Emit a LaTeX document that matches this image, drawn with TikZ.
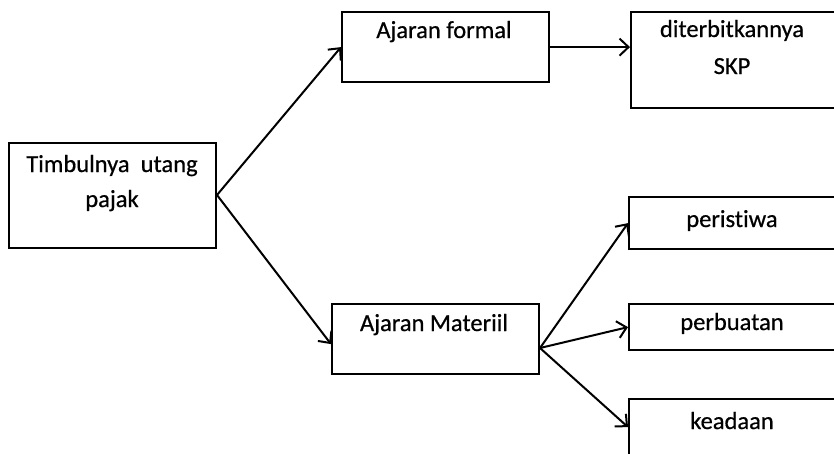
\documentclass[tikz,border=0pt]{standalone}
\usepackage{fontspec}
\setmainfont{Carlito}[Ligatures={NoCommon}, FakeBold=0.6]
\usetikzlibrary{arrows.meta}
\begin{document}
\begin{tikzpicture}[x=1pt,y=-1pt,
  box/.style={draw=black, line width=2.2pt, inner sep=0pt, anchor=north west},
  lbl/.style={anchor=base, inner sep=0pt, font=\fontsize{24.5}{30}\selectfont, text=black},
  arr/.style={draw=black, line width=2pt, -{Straight Barb[length=9pt,width=17pt,line width=2pt]}}]
\useasboundingbox (0,0) rectangle (834,453);
\clip (0,0) rectangle (834,453);
% boxes
\node[box, minimum width=207pt, minimum height=105pt] (tp) at (8,142) {};
\node[box, minimum width=207pt, minimum height=70pt] (af) at (341,11) {};
\node[box, minimum width=210pt, minimum height=96pt] (dk) at (630,11) {};
\node[box, minimum width=207pt, minimum height=70pt] (am) at (331,303) {};
\node[box, minimum width=212pt, minimum height=52pt] (pe) at (628,196) {};
\node[box, minimum width=212pt, minimum height=46pt] (pb) at (628,303) {};
\node[box, minimum width=212pt, minimum height=64pt] (ke) at (628,398) {};
% texts
\node[lbl] (tpA) at (112,172) {Timbulnya \ utang};
\node[lbl] (tpB) at (112,207) {pajak};
\node[lbl] (afA) at (444,38) {Ajaran formal};
\node[lbl] (dkA) at (732,37) {diterbitkannya};
\node[lbl] (dkB) at (732,74) {SKP};
\node[lbl] (amA) at (434,331) {Ajaran Materiil};
\node[lbl] (peA) at (732,227) {peristiwa};
\node[lbl] (pbA) at (732,330) {perbuatan};
\node[lbl] (keA) at (732,429) {keadaan};
% connectors
\coordinate (tpo) at (217,195);
\coordinate (amo) at (540,348);
\draw[arr] (tpo) -- (af.west);
\draw[arr] (tpo) -- ([yshift=-5pt]am.west);
\draw[arr] (af.east) -- (af.east -| dk.west);
\draw[arr] (amo) -- (pe.west);
\draw[arr] (amo) -- (pb.west);
\draw[arr] (amo) -- ([yshift=4pt]ke.west);
\end{tikzpicture}
\end{document}
